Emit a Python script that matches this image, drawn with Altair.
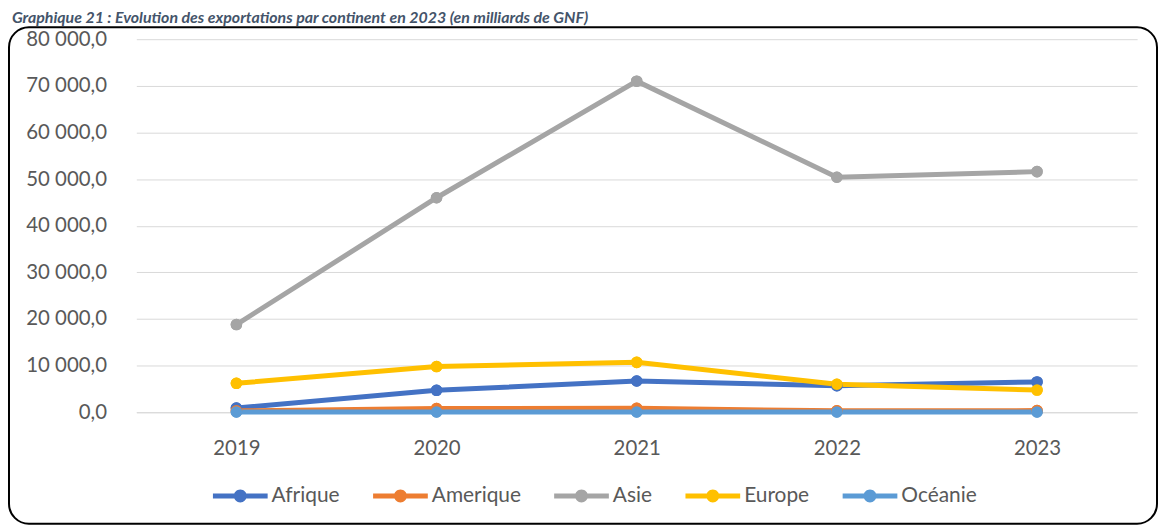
import altair as alt
import pandas as pd

years = ["2019", "2020", "2021", "2022", "2023"]
series = ["Afrique", "Amerique", "Asie", "Europe", "Océanie"]
afrique = [900, 4700, 6700, 5700, 6500]
amerique = [300, 800, 850, 300, 350]
asie = [18800, 46000, 71000, 50400, 51600]
europe = [6200, 9800, 10700, 6000, 4750]
oceanie = [50, 50, 50, 50, 50]
colors = ["#4472C4", "#ED7D31", "#A5A5A5", "#FFC000", "#5B9BD5"]
title_text = "Graphique 21 : Evolution des exportations par continent en 2023 (en milliards de GNF)"

values = [afrique, amerique, asie, europe, oceanie]
rows = []
for s, vals in zip(series, values):
    for y, v in zip(years, vals):
        rows.append({"Année": y, "Continent": s, "Valeur": v})
df = pd.DataFrame(rows)

W, H = 1006, 375

x_enc = alt.X("Année:N", sort=years, scale=alt.Scale(padding=0.5),
              axis=alt.Axis(title=None, labelAngle=0, labelPadding=26, ticks=False,
                            domainColor="#D9D9D9", domainWidth=1, grid=False,
                            labelFontSize=20.5, labelColor="#595959"))
y_enc = alt.Y("Valeur:Q", scale=alt.Scale(domain=[0, 80000], nice=False),
              axis=alt.Axis(title=None, values=list(range(0, 80001, 10000)), domain=False,
                            ticks=False, labelPadding=30, gridColor="#D9D9D9", gridWidth=1,
                            labelFontSize=20.5, labelColor="#595959",
                            labelExpr="replace(replace(format(datum.value, ',.1f'), ',', ' '), '.', ',')"))

legend_path = ("M-1,-0.091H1V0.091H-1Z "
               "M-0.236,0A0.236,0.236,0,1,1,0.236,0A0.236,0.236,0,1,1,-0.236,0Z")

legend = alt.Legend(title=None, orient="none", direction="horizontal",
                    legendX=77, legendY=431.5, symbolType=legend_path,
                    symbolSize=3025, symbolStrokeWidth=0, symbolOpacity=1,
                    labelFontSize=21, labelColor="#595959",
                    labelOffset=4, columnPadding=33, padding=0, columns=5)
color_enc = alt.Color("Continent:N", sort=series,
                      scale=alt.Scale(domain=series, range=colors), legend=legend)

lines = alt.Chart(df).mark_line(strokeWidth=5).encode(
    x=x_enc, y=y_enc, color=color_enc, detail="Continent:N",
)
points = alt.Chart(df).mark_point(filled=True, size=135, opacity=1).encode(
    x=x_enc, y=y_enc, color=color_enc,
)

one = pd.DataFrame({"k": [0]})
frame = alt.Chart(one).mark_rect(fill="white", fillOpacity=0, stroke="black",
                                 strokeWidth=2, cornerRadius=20).encode(
    x=alt.value(-128), x2=alt.value(1026), y=alt.value(-12), y2=alt.value(487))
title = alt.Chart(one).mark_text(text=title_text, font="Lato", fontSize=16,
                                 fontWeight="bold", fontStyle="italic", color="#44546A",
                                 align="left", baseline="top").encode(
    x=alt.value(-125), y=alt.value(-29))

chart = alt.layer(frame, title, points, lines, points).properties(
    width=W, height=H, padding={"left": 0, "top": 1, "right": 0, "bottom": 0}
).configure(font="Lato").configure_view(stroke=None)

chart.save("out.html", embed_options={"renderer": "svg", "actions": False})
